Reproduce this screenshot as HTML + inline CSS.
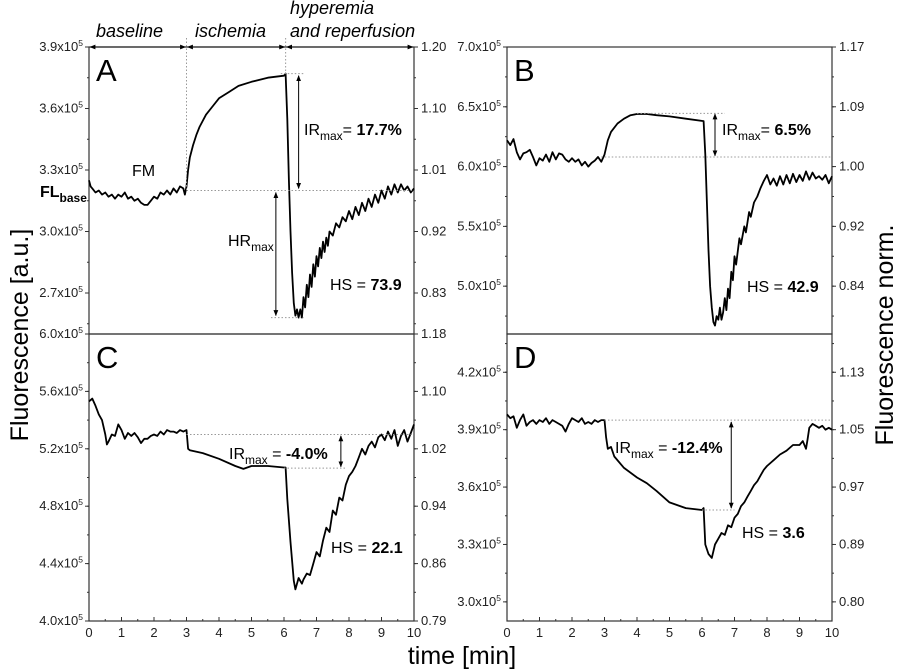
<!DOCTYPE html>
<html><head><meta charset="utf-8">
<style>
html,body{margin:0;padding:0;background:#fff;}
svg{display:block;font-family:"Liberation Sans",Arial,sans-serif;}
</style></head>
<body>
<svg id="chart" width="899" height="672" viewBox="0 0 899 672" xmlns="http://www.w3.org/2000/svg">
<defs>
<marker id="ah" viewBox="0 0 10 10" refX="9" refY="5" markerWidth="6" markerHeight="6" orient="auto-start-reverse"><path d="M0,1 L10,5 L0,9 z" fill="#000"/></marker>
</defs>
<g id="layer"></g>
</svg>
<script>
// ---- data (fluorescence in units of 1e5 a.u., time in min) ----
const timeA=[0,.05,.1,.2,.3,.4,.5,.6,.7,.8,.9,1,1.1,1.2,1.3,1.4,1.5,1.6,1.7,1.8,1.9,2,2.1,2.2,2.3,2.4,2.5,2.6,2.7,2.8,2.9,2.95,3,3.05,3.1,3.2,3.3,3.4,3.6,3.8,4,4.3,4.6,5,5.5,6,6.05,6.1,6.15,6.2,6.25,6.3,6.35,6.4,6.45,6.5,6.55,6.6,6.65,6.7,6.75,6.8,6.85,6.9,6.95,7,7.05,7.1,7.15,7.2,7.25,7.3,7.35,7.4,7.5,7.6,7.7,7.8,7.9,8,8.1,8.2,8.3,8.4,8.5,8.6,8.7,8.8,8.9,9,9.1,9.2,9.3,9.4,9.5,9.6,9.7,9.8,9.9,10];
const fluorA=[3.25,3.22,3.21,3.19,3.20,3.18,3.19,3.17,3.18,3.16,3.18,3.17,3.19,3.16,3.17,3.15,3.16,3.14,3.13,3.13,3.15,3.17,3.16,3.19,3.18,3.20,3.18,3.21,3.19,3.22,3.21,3.18,3.22,3.30,3.36,3.42,3.47,3.51,3.57,3.61,3.65,3.68,3.71,3.73,3.75,3.76,3.77,3.55,3.25,3.00,2.80,2.65,2.59,2.62,2.58,2.62,2.58,2.68,2.63,2.74,2.68,2.79,2.73,2.84,2.78,2.88,2.83,2.92,2.87,2.95,2.90,2.97,2.93,3.00,2.98,3.04,3.02,3.07,3.05,3.10,3.06,3.12,3.08,3.14,3.10,3.16,3.12,3.18,3.14,3.20,3.16,3.22,3.18,3.23,3.19,3.23,3.20,3.22,3.19,3.21];

const timeB=[0,.1,.2,.3,.4,.5,.6,.7,.8,.9,1,1.1,1.2,1.3,1.4,1.5,1.6,1.7,1.8,1.9,2,2.1,2.2,2.3,2.4,2.5,2.6,2.7,2.8,2.9,3,3.1,3.2,3.4,3.6,3.8,4,4.3,4.6,5,5.5,6.05,6.1,6.15,6.2,6.25,6.3,6.35,6.4,6.45,6.5,6.55,6.6,6.65,6.7,6.75,6.8,6.85,6.9,6.95,7,7.05,7.15,7.2,7.3,7.35,7.45,7.5,7.6,7.7,7.8,7.9,8,8.1,8.2,8.3,8.4,8.5,8.6,8.7,8.8,8.9,9,9.1,9.2,9.3,9.4,9.5,9.6,9.7,9.8,9.9,10];
const fluorB=[6.22,6.18,6.23,6.12,6.06,6.11,6.12,6.14,6.08,6.01,6.07,6.05,6.10,6.04,6.12,6.06,6.11,6.10,6.06,6.04,6.07,6.04,6.06,6.01,6.04,6.00,6.03,6.05,6.08,6.04,6.10,6.22,6.29,6.36,6.40,6.43,6.44,6.44,6.43,6.42,6.40,6.38,6.10,5.70,5.30,5.00,4.82,4.70,4.67,4.75,4.72,4.82,4.72,4.78,4.90,4.80,4.98,4.90,5.12,5.05,5.25,5.18,5.40,5.35,5.50,5.45,5.62,5.58,5.70,5.75,5.82,5.88,5.93,5.85,5.90,5.84,5.92,5.85,5.93,5.86,5.94,5.87,5.93,5.88,5.96,5.89,5.95,5.90,5.92,5.89,5.93,5.86,5.92];

const timeC=[0,.1,.2,.3,.4,.5,.55,.6,.7,.8,.9,1,1.1,1.2,1.3,1.4,1.5,1.6,1.7,1.8,1.9,2,2.1,2.2,2.3,2.4,2.5,2.6,2.7,2.8,2.9,3,3.05,3.1,3.5,4,4.5,4.75,5,5.5,6,6.05,6.1,6.2,6.3,6.35,6.45,6.55,6.6,6.7,6.8,6.9,7,7.1,7.2,7.3,7.4,7.5,7.6,7.7,7.8,7.9,8,8.1,8.2,8.3,8.4,8.5,8.6,8.7,8.8,8.9,9,9.1,9.2,9.3,9.4,9.5,9.6,9.7,9.8,9.9,10];
const fluorC=[5.53,5.55,5.50,5.44,5.40,5.30,5.23,5.25,5.30,5.29,5.37,5.33,5.27,5.31,5.29,5.31,5.28,5.24,5.27,5.27,5.29,5.30,5.29,5.32,5.30,5.33,5.32,5.32,5.31,5.33,5.32,5.33,5.20,5.19,5.17,5.13,5.08,5.06,5.08,5.08,5.07,5.07,4.85,4.55,4.28,4.22,4.30,4.26,4.29,4.33,4.32,4.40,4.48,4.45,4.56,4.65,4.62,4.77,4.74,4.86,4.84,4.95,5.01,5.04,5.08,5.14,5.20,5.16,5.22,5.25,5.21,5.28,5.30,5.26,5.32,5.27,5.33,5.22,5.29,5.33,5.25,5.31,5.37];

const timeD=[0,.1,.2,.3,.4,.5,.6,.7,.8,.9,1,1.1,1.2,1.3,1.4,1.5,1.6,1.7,1.8,1.9,2,2.1,2.2,2.3,2.4,2.5,2.6,2.7,2.8,2.9,3,3.05,3.1,3.2,3.3,3.6,4,4.3,4.6,5,5.5,6,6.05,6.1,6.2,6.3,6.4,6.5,6.6,6.7,6.8,6.9,7,7.1,7.2,7.3,7.4,7.5,7.6,7.7,7.8,7.9,8,8.2,8.4,8.6,8.8,9,9.1,9.2,9.25,9.3,9.4,9.5,9.6,9.7,9.8,9.9,10];
const fluorD=[3.98,3.96,3.97,3.91,3.95,3.98,3.92,3.94,3.95,3.93,3.95,3.94,3.96,3.93,3.95,3.94,3.93,3.92,3.89,3.93,3.96,3.95,3.94,3.96,3.93,3.94,3.93,3.95,3.94,3.95,3.95,3.86,3.80,3.81,3.76,3.70,3.65,3.62,3.58,3.52,3.49,3.48,3.49,3.30,3.25,3.23,3.30,3.33,3.36,3.35,3.40,3.39,3.44,3.46,3.50,3.52,3.55,3.58,3.61,3.63,3.66,3.69,3.71,3.74,3.77,3.79,3.82,3.82,3.84,3.80,3.85,3.91,3.93,3.92,3.91,3.92,3.90,3.91,3.90];

// tick labels
const ticksA=[3.9,3.6,3.3,3.0,2.7];
const normA=["1.20","1.10","1.01","0.92","0.83"];
const ticksB=[7.0,6.5,6.0,5.5,5.0];
const normB=["1.17","1.09","1.00","0.92","0.84"];
const ticksC=[6.0,5.6,5.2,4.8,4.4,4.0];
const normC=["1.18","1.10","1.02","0.94","0.86","0.79"];
const ticksD=[4.2,3.9,3.6,3.3,3.0];
const normD=["1.13","1.05","0.97","0.89","0.80"];
const timeTicks=[0,1,2,3,4,5,6,7,8,9,10];

const NS="http://www.w3.org/2000/svg";
const layer=document.getElementById('layer');
function mk(tag,attrs,parent){const e=document.createElementNS(NS,tag);for(const k in attrs)e.setAttribute(k,attrs[k]);(parent||layer).appendChild(e);return e;}

function panel(id,x0,x1,y0,y1,vTop,vBot,minorStep){
  const sx=t=>x0+(x1-x0)*t/10;
  const sy=v=>y0+(y1-y0)*(vTop-v)/(vTop-vBot);
  return {id,x0,x1,y0,y1,sx,sy,vTop,vBot,minorStep};
}
const P={
  A:panel('a',89,414,47,334,3.9,2.5,0.15),
  B:panel('b',507,832,47,334,7.0,4.6,0.25),
  C:panel('c',89,414,334,621,6.0,4.0,0.2),
  D:panel('d',507,832,334,621,4.4,2.9,0.15)
};

function drawPanel(p,letter,ticks,norms,times,vals,showX){
  const g=mk('g',{});
  
  
  const frame=mk('rect',{x:p.x0,y:p.y0,width:p.x1-p.x0,height:p.y1-p.y0,fill:'none',stroke:'#333','stroke-width':1.2},g);
  
  
  ticks.forEach((v,i)=>{
    const y=p.sy(v);
    mk('line',{x1:p.x0-4,x2:p.x0,y1:y,y2:y,stroke:'#333'},g);
    mk('line',{x1:p.x1,x2:p.x1+4,y1:y,y2:y,stroke:'#333'},g);
    const t=mk('text',{x:p.x0-6,y:y+4,'font-size':13,'text-anchor':'end',fill:'#222'},g);
    
    
    t.textContent=v.toFixed(1)+'x10';
    const s=mk('tspan',{'font-size':8.5,dy:-5},t);s.textContent='5';
    const r=mk('text',{x:p.x1+7,y:y+4,'font-size':13,fill:'#222'},g);
    
    
    r.textContent=norms[i];
  });
  for(let v=ticks[0];v>p.vBot;v-=p.minorStep){
    const y=p.sy(v);if(y<p.y0||y>p.y1)continue;
    mk('line',{x1:p.x0-2,x2:p.x0,y1:y,y2:y,stroke:'#333'},g);
    mk('line',{x1:p.x1,x2:p.x1+2,y1:y,y2:y,stroke:'#333'},g);
  }
  for(let v=ticks[0];v<p.vTop;v+=p.minorStep){
    const y=p.sy(v);if(y<p.y0)continue;
    mk('line',{x1:p.x0-2,x2:p.x0,y1:y,y2:y,stroke:'#333'},g);
    mk('line',{x1:p.x1,x2:p.x1+2,y1:y,y2:y,stroke:'#333'},g);
  }
  if(showX){
    timeTicks.forEach(t=>{
      const x=p.sx(t);
      mk('line',{x1:x,x2:x,y1:p.y1,y2:p.y1-4,stroke:'#333'},g);
      if(t<10) mk('line',{x1:p.sx(t+0.5),x2:p.sx(t+0.5),y1:p.y1,y2:p.y1-2,stroke:'#333'},g);
      const tl=mk('text',{x:x,y:p.y1+16,'font-size':13,'text-anchor':'middle',fill:'#222'},g);
      
      
      tl.textContent=t;
    });
  }
  const L=mk('text',{x:p.x0+7,y:p.y0+34,'font-size':31,fill:'#000'},g);
  
  
  L.textContent=letter;
  const d=times.map((t,i)=>(i?'L':'M')+p.sx(t).toFixed(1)+','+p.sy(vals[i]).toFixed(1)).join(' ');
  const path=mk('path',{d,fill:'none',stroke:'#000','stroke-width':1.8,'stroke-linejoin':'round'},g);
  
  
  return g;
}
drawPanel(P.A,'A',ticksA,normA,timeA,fluorA,false);
drawPanel(P.B,'B',ticksB,normB,timeB,fluorB,false);
drawPanel(P.C,'C',ticksC,normC,timeC,fluorC,true);
drawPanel(P.D,'D',ticksD,normD,timeD,fluorD,true);

function dotted(x1,y1,x2,y2){const l=mk('line',{x1,y1,x2,y2,stroke:'#999','stroke-width':1,'stroke-dasharray':'1.5,2'});}
function arrow(x,y1,x2,y2){const l=mk('line',{x1:x,y1,x2,y2,stroke:'#000','stroke-width':1,'marker-start':'url(#ah)','marker-end':'url(#ah)'});}
function label(x,y,size,parts,name,style){
  const t=mk('text',{x,y,'font-size':size,fill:'#000'});
  
  
  if(style)t.setAttribute('font-style',style);
  parts.forEach(pt=>{const s=mk('tspan',pt.a||{},t);s.textContent=pt.t;});
  return t;
}
const A=P.A,B=P.B,C=P.C,D=P.D;
dotted(A.sx(3),38,A.sx(3),A.sy(3.2));
dotted(A.sx(6.05),38,A.sx(6.05),A.sy(3.77));
dotted(A.sx(3),A.sy(3.2),A.x1,A.sy(3.2));
dotted(A.sx(5.9),A.sy(3.77),A.sx(6.6),A.sy(3.77));
dotted(A.sx(5.6),A.sy(2.58),A.sx(6.6),A.sy(2.58));
arrow(A.sx(6.45),A.sy(3.76),A.sx(6.45),A.sy(3.21));
arrow(A.sx(5.75),A.sy(3.19),A.sx(5.75),A.sy(2.59));
[[0,3],[3,6.05],[6.05,10]].forEach(r=>{const l=mk('line',{x1:A.sx(r[0])+1,y1:47,x2:A.sx(r[1])-1,y2:47,stroke:'#000','stroke-width':1,'marker-start':'url(#ah)','marker-end':'url(#ah)'});});
label(96,37,18,[{t:'baseline'}],'phase-baseline-label','italic');
label(195,37,18,[{t:'ischemia'}],'phase-ischemia-label','italic');
label(290,14,18,[{t:'hyperemia'}],'phase-hyperemia-label','italic');
label(290,37,18,[{t:'and reperfusion'}],'phase-reperfusion-label','italic');
label(132,176,16,[{t:'FM'}],'fm-label');
label(40,197,16,[{t:'FL',a:{'font-weight':'bold'}},{t:'base',a:{'font-weight':'bold','font-size':12,dy:5}}],'fl-base-label');
label(304,135,16,[{t:'IR'},{t:'max',a:{'font-size':12,dy:5}},{t:'= ',a:{dy:-5}},{t:'17.7%',a:{'font-weight':'bold'}}],'ir-max-a');
label(228,246,16,[{t:'HR'},{t:'max',a:{'font-size':12,dy:5}}],'hr-max-label');
label(330,290,16,[{t:'HS = '},{t:'73.9',a:{'font-weight':'bold'}}],'hs-a');
dotted(B.sx(2.9),B.sy(6.08),B.x1,B.sy(6.08));
dotted(B.sx(4.0),B.sy(6.445),B.sx(6.7),B.sy(6.445));
arrow(B.sx(6.4),B.sy(6.44),B.sx(6.4),B.sy(6.09));
label(722,135,16,[{t:'IR'},{t:'max',a:{'font-size':12,dy:5}},{t:'= ',a:{dy:-5}},{t:'6.5%',a:{'font-weight':'bold'}}],'ir-max-b');
label(747,292,16,[{t:'HS = '},{t:'42.9',a:{'font-weight':'bold'}}],'hs-b');
dotted(C.sx(3),C.sy(5.3),C.x1,C.sy(5.3));
dotted(C.sx(6),C.sy(5.065),C.sx(7.9),C.sy(5.065));
arrow(C.sx(7.75),C.sy(5.29),C.sx(7.75),C.sy(5.075));
label(229,459,16,[{t:'IR'},{t:'max',a:{'font-size':12,dy:5}},{t:' = ',a:{dy:-5}},{t:'-4.0%',a:{'font-weight':'bold'}}],'ir-max-c');
label(331,553,16,[{t:'HS = '},{t:'22.1',a:{'font-weight':'bold'}}],'hs-c');
dotted(D.sx(3),D.sy(3.95),D.x1,D.sy(3.95));
dotted(D.sx(6),D.sy(3.48),D.sx(7),D.sy(3.48));
arrow(D.sx(6.9),D.sy(3.94),D.sx(6.9),D.sy(3.49));
label(615,453,16,[{t:'IR'},{t:'max',a:{'font-size':12,dy:5}},{t:' = ',a:{dy:-5}},{t:'-12.4%',a:{'font-weight':'bold'}}],'ir-max-d');
label(742,538,16,[{t:'HS = '},{t:'3.6',a:{'font-weight':'bold'}}],'hs-d');

const yt=mk('text',{x:0,y:0,'font-size':25,'text-anchor':'middle',fill:'#000',transform:'translate(28,335) rotate(-90)'});


yt.textContent='Fluorescence [a.u.]';
const yr=mk('text',{x:0,y:0,'font-size':25,'text-anchor':'middle',fill:'#000',transform:'translate(893,335) rotate(-90)'});


yr.textContent='Fluorescence norm.';
const xt=mk('text',{x:462,y:664,'font-size':25,'text-anchor':'middle',fill:'#000'});


xt.textContent='time [min]';
</script>
</body></html>
